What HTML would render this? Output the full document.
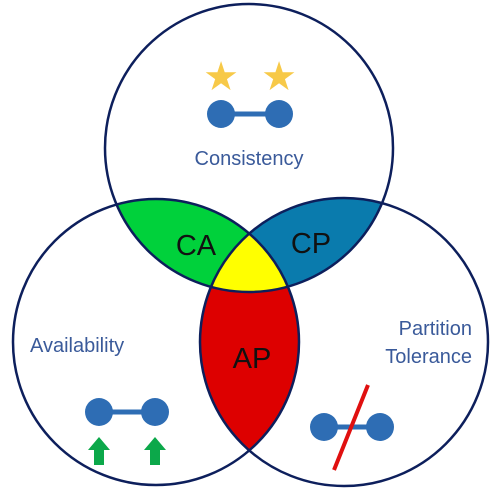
<!DOCTYPE html>
<html><head><style>html,body{margin:0;padding:0;background:#fff}svg{display:block}</style></head>
<body>
<svg width="498" height="490" xmlns="http://www.w3.org/2000/svg">
<defs>
<clipPath id="cT"><circle cx="249" cy="148" r="144"/></clipPath>
<clipPath id="cL"><circle cx="156" cy="342" r="143"/></clipPath>
</defs>
<rect width="498" height="490" fill="#fff"/>
<circle cx="156" cy="342" r="143" fill="#00d13b" clip-path="url(#cT)"/>
<circle cx="344" cy="342" r="144" fill="#0a7bad" clip-path="url(#cT)"/>
<circle cx="344" cy="342" r="144" fill="#dd0000" clip-path="url(#cL)"/>
<g clip-path="url(#cT)"><circle cx="344" cy="342" r="144" fill="#ffff00" clip-path="url(#cL)"/></g>
<g fill="none" stroke="#0d1f5c" stroke-width="2.5">
<circle cx="249" cy="148" r="144"/>
<circle cx="156" cy="342" r="143"/>
<circle cx="344" cy="342" r="144"/>
</g>
<g font-family="Liberation Sans, sans-serif">
<text x="249" y="165" font-size="20" fill="#3a5a9a" text-anchor="middle">Consistency</text>
<text x="196" y="255" font-size="29" fill="#111" text-anchor="middle">CA</text>
<text x="311" y="253" font-size="29" fill="#111" text-anchor="middle">CP</text>
<text x="252" y="368" font-size="29" fill="#111" text-anchor="middle">AP</text>
<text x="30" y="352" font-size="20" fill="#3a5a9a">Availability</text>
<text x="472" y="335" font-size="20" fill="#3a5a9a" text-anchor="end">Partition</text>
<text x="472" y="363" font-size="20" fill="#3a5a9a" text-anchor="end">Tolerance</text>
</g>
<g fill="#f7c948">
<text x="221" y="90" font-size="40" text-anchor="middle" font-family="DejaVu Sans">★</text>
<text x="279" y="90" font-size="40" text-anchor="middle" font-family="DejaVu Sans">★</text>
</g>
<g fill="#2e6db4" stroke="#2e6db4" stroke-width="5">
<line x1="221" y1="114" x2="279" y2="114"/>
<circle cx="221" cy="114" r="14" stroke="none"/><circle cx="279" cy="114" r="14" stroke="none"/>
<line x1="99" y1="412" x2="155" y2="412"/>
<circle cx="99" cy="412" r="14" stroke="none"/><circle cx="155" cy="412" r="14" stroke="none"/>
<line x1="324" y1="427" x2="380" y2="427"/>
<circle cx="324" cy="427" r="14" stroke="none"/><circle cx="380" cy="427" r="14" stroke="none"/>
</g>
<g fill="#0ca84a">
<polygon points="99,437 110,450 104,450 104,465 94,465 94,450 88,450"/>
<polygon points="155,437 166,450 160,450 160,465 150,465 150,450 144,450"/>
</g>
<line x1="368" y1="385" x2="334" y2="470" stroke="#e01010" stroke-width="4"/>
</svg>
</body></html>
